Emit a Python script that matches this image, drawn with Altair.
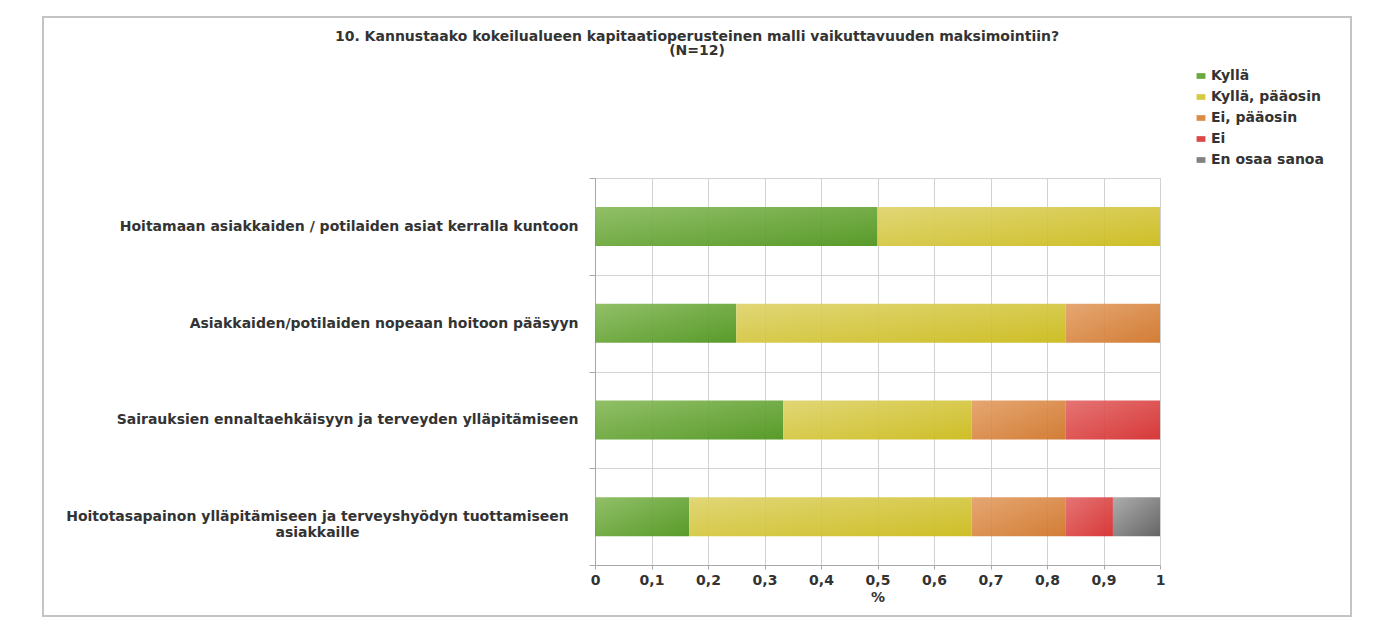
import altair as alt
import pandas as pd

# ---------------- data (N = 12) ----------------
questions = [
    "Hoitamaan asiakkaiden / potilaiden asiat kerralla kuntoon",
    "Asiakkaiden/potilaiden nopeaan hoitoon pääsyyn",
    "Sairauksien ennaltaehkäisyyn ja terveyden ylläpitämiseen",
    "Hoitotasapainon ylläpitämiseen ja terveyshyödyn tuottamiseen\nasiakkaille",
]
answers = ["Kyllä", "Kyllä, pääosin", "Ei, pääosin", "Ei", "En osaa sanoa"]

kylla = [0.5, 0.25, 0.3333, 0.1667]
kylla_paaosin = [0.5, 0.5833, 0.3333, 0.5]
ei_paaosin = [0.0, 0.1667, 0.1667, 0.1667]
ei = [0.0, 0.0, 0.1667, 0.0833]
en_osaa_sanoa = [0.0, 0.0, 0.0, 0.0833]

x_ticks = [0, 0.1, 0.2, 0.3, 0.4, 0.5, 0.6, 0.7, 0.8, 0.9, 1]

title_lines = [
    "10. Kannustaako kokeilualueen kapitaatioperusteinen malli vaikuttavuuden maksimointiin?",
    "(N=12)",
]
x_title = "%"

# flat colours (legend) and gradient light/dark ends (bars)
legend_colors = ["#6ba83d", "#d6ca3f", "#da8c48", "#dc4747", "#818181"]
grad_light = ["#88ba5b", "#ded36a", "#e39f66", "#e36868", "#a6a6a6"]
grad_dark = ["#4a9217", "#cab915", "#cf7224", "#d42828", "#585858"]

# ---------------- long table ----------------
series = [kylla, kylla_paaosin, ei_paaosin, ei, en_osaa_sanoa]
rows = []
for ai, (a, vals) in enumerate(zip(answers, series)):
    for q, v in zip(questions, vals):
        rows.append({"question": q, "answer": a, "order": ai, "value": v})
df = pd.DataFrame(rows)
df = df[df["value"] > 0]

FONT = "DejaVu Sans"
FS = 14
TXT = "#333333"

last_test = f"datum.value == {questions[-1]!r}"

x_enc = alt.X(
    "x0:Q",
    scale=alt.Scale(domain=[0, 1], nice=False, zero=True),
    axis=alt.Axis(
        orient="bottom",
        values=x_ticks,
        labelExpr="replace(format(datum.value, '.1~f'), '.', ',')",
        title=x_title,
        titleFont=FONT,
        titleFontSize=FS,
        titleFontWeight="bold",
        titleColor=TXT,
        titlePadding=3,
        labelFont=FONT,
        labelFontSize=FS,
        labelFontWeight="bold",
        labelColor=TXT,
        labelPadding=4,
        grid=True,
        gridColor="#d2d2d2",
        gridWidth=1,
        domainColor="#a8a8a8",
        tickColor="#a8a8a8",
        tickSize=4,
        labelFlush=False,
        labelOverlap=False,
    ),
)

y_enc = alt.Y(
    "question:N",
    sort=questions,
    scale=alt.Scale(paddingInner=0, paddingOuter=0),
    axis=alt.Axis(
        title=None,
        labelExpr="split(datum.label, '\\n')",
        labelFont=FONT,
        labelFontSize=FS,
        labelFontWeight="bold",
        labelColor=TXT,
        labelLineHeight=16,
        labelLimit=700,
        labelAlign={"condition": {"test": last_test, "value": "center"}, "value": "right"},
        labelPadding={"condition": {"test": last_test, "value": 272}, "value": 11},
        tickBand="extent",
        grid=True,
        gridColor="#d2d2d2",
        domainColor="#a8a8a8",
        tickColor="#a8a8a8",
        tickSize=6,
    ),
)

base = alt.Chart(df).transform_stack(
    stack="value",
    groupby=["question"],
    as_=["x0", "x1"],
    sort=[alt.SortField("order", order="ascending")],
)

BAR_H = 39

legend_layer = base.mark_bar(opacity=0, size=BAR_H).encode(
    x=x_enc,
    x2="x1:Q",
    y=y_enc,
    color=alt.Color(
        "answer:N",
        scale=alt.Scale(domain=answers, range=legend_colors),
        legend=alt.Legend(
            title=None,
            orient="none",
            legendX=599,
            legendY=-109,
            symbolType="M-1.4,-0.9H1.4V0.9H-1.4Z",
            symbolSize=40,
            symbolOpacity=1,
            symbolStrokeWidth=0,
            labelFont=FONT,
            labelFontSize=FS,
            labelFontWeight="bold",
            labelColor=TXT,
            labelOffset=3,
            rowPadding=7,
        ),
    ),
)

bar_layers = []
for a, c1, c2 in zip(answers, grad_light, grad_dark):
    bar_layers.append(
        base.transform_filter(alt.datum.answer == a)
        .mark_bar(
            opacity=0.92,
            size=BAR_H,
            color=alt.Gradient(
                gradient="linear",
                stops=[alt.GradientStop(color=c1, offset=0), alt.GradientStop(color=c2, offset=1)],
                x1=0, y1=0, x2=1, y2=1,
            ),
        )
        .encode(x=x_enc, x2="x1:Q", y=y_enc)
    )

one = pd.DataFrame({"k": [0]})

frame = alt.Chart(one).mark_rect(fillOpacity=0, stroke="#c4c4c4", strokeWidth=2).encode(
    x=alt.value(-552), x2=alt.value(756), y=alt.value(-161), y2=alt.value(438)
)

title = alt.Chart(one).mark_text(
    text=title_lines,
    font=FONT,
    fontSize=FS,
    fontWeight="bold",
    color=TXT,
    align="center",
    baseline="top",
    lineHeight=14,
).encode(x=alt.value(102), y=alt.value(-148))

chart = alt.layer(frame, legend_layer, *bar_layers, title).properties(
    width=565,
    height=387,
    autosize=alt.AutoSizeParams(type="none"),
    padding={"left": 587, "top": 170, "right": 217, "bottom": 53},
    background="white",
).configure_view(stroke="#c8c8c8", strokeWidth=1)

chart.save("out.html", embed_options={"renderer": "svg", "actions": False})
